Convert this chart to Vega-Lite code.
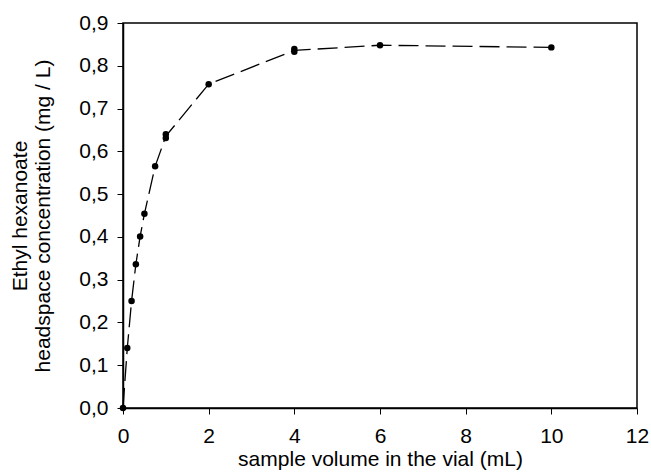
{
  "$schema": "https://vega.github.io/schema/vega-lite/v6.json",
  "width": 514,
  "height": 385,
  "autosize": {"type": "none"},
  "padding": {"left": 123, "top": 23, "right": 14, "bottom": 67},
  "background": "white",
  "config": {
    "locale": {"number": {"decimal": ",", "thousands": ".", "grouping": [3], "currency": ["", " €"]}},
    "view": {"stroke": "black", "strokeWidth": 1.5},
    "font": "Liberation Sans",
    "axis": {
      "grid": false,
      "domainColor": "black",
      "domainWidth": 1.5,
      "tickColor": "black",
      "tickSize": 6,
      "labelFont": "Liberation Sans",
      "labelFontSize": 21,
      "labelColor": "black",
      "titleFont": "Liberation Sans",
      "titleFontSize": 21,
      "titleFontWeight": "normal",
      "titleColor": "black"
    }
  },
  "data": {
    "values": [
      {"volume": 0, "conc": 0.0},
      {"volume": 0.1, "conc": 0.14},
      {"volume": 0.2, "conc": 0.25},
      {"volume": 0.3, "conc": 0.336},
      {"volume": 0.4, "conc": 0.401},
      {"volume": 0.5, "conc": 0.454},
      {"volume": 0.75, "conc": 0.565},
      {"volume": 1, "conc": 0.631},
      {"volume": 1, "conc": 0.64},
      {"volume": 2, "conc": 0.757},
      {"volume": 4, "conc": 0.833},
      {"volume": 4, "conc": 0.839},
      {"volume": 6, "conc": 0.848},
      {"volume": 10, "conc": 0.843}
    ]
  },
  "encoding": {
    "x": {
      "field": "volume",
      "type": "quantitative",
      "scale": {"domain": [0, 12], "nice": false},
      "axis": {"values": [0, 2, 4, 6, 8, 10, 12], "title": "sample volume in the vial (mL)", "labelPadding": 11, "titlePadding": 2, "labelFlush": false}
    },
    "y": {
      "field": "conc",
      "type": "quantitative",
      "scale": {"domain": [0, 0.9], "nice": false},
      "axis": {"values": [0, 0.1, 0.2, 0.3, 0.4, 0.5, 0.6, 0.7, 0.8, 0.9], "format": ".1f", "title": ["Ethyl hexanoate", "headspace concentration (mg / L)"], "labelPadding": 9, "titlePadding": 25, "labelFlush": false}
    }
  },
  "layer": [
    {
      "mark": {"type": "line", "color": "black", "strokeWidth": 1.3, "strokeDash": [20, 7]},
      "encoding": {
        "x": {"field": "volume", "type": "quantitative"},
        "y": {"aggregate": "mean", "field": "conc", "type": "quantitative"}
      }
    },
    {
      "mark": {"type": "point", "filled": true, "color": "black", "size": 42, "opacity": 1}
    }
  ]
}
